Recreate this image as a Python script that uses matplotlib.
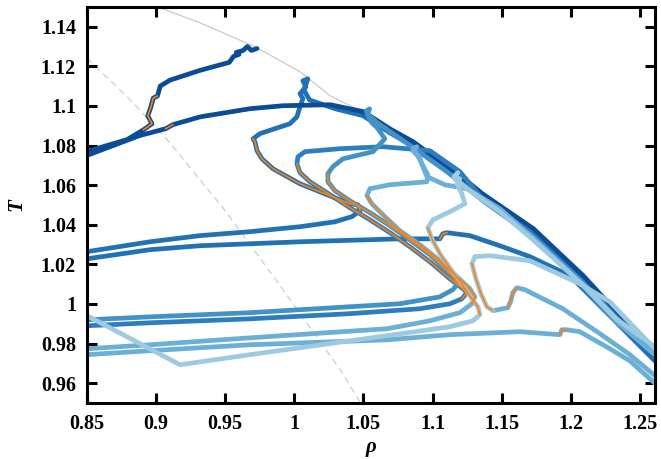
import matplotlib.pyplot as plt
from matplotlib.ticker import FormatStrFormatter, MultipleLocator

plt.rcParams['font.family'] = ['Liberation Serif', 'DejaVu Serif']
plt.rcParams['font.weight'] = 'bold'

# guide curves
binodal_rho = [0.9006, 0.9317, 0.9715, 1.0041, 1.0258, 1.0475, 1.0764, 1.1126, 1.1487, 1.1849, 1.2211, 1.2608]
binodal_T = [1.1501, 1.1420, 1.1299, 1.1173, 1.1052, 1.0976, 1.0860, 1.0690, 1.0498, 1.0302, 1.0052, 0.9766]
spinodal_rho = [0.850, 0.880, 0.908, 0.949, 0.990, 1.033, 1.048]
spinodal_T = [1.124, 1.104, 1.083, 1.048, 1.009, 0.967, 0.950]

# trajectories (rho, T) and the index range drawn as unstable (orange)
t1_rho = [0.850, 0.879, 0.891, 0.897, 0.894, 0.896, 0.898, 0.901, 0.903, 0.910, 0.932, 0.953, 0.956,
          0.960, 0.958, 0.963, 0.966, 0.969, 0.973]
t1_T = [1.077, 1.083, 1.088, 1.091, 1.095, 1.099, 1.104, 1.105, 1.110, 1.113, 1.118, 1.122, 1.125,
        1.126, 1.127, 1.128, 1.130, 1.128, 1.129]
t1_unstable = (2, 7)

t2_rho = [0.850, 0.888, 0.907, 0.912, 0.932, 0.968, 0.992, 1.026, 1.050, 1.069, 1.086, 1.110, 1.120,
          1.136, 1.173, 1.209, 1.233, 1.261]
t2_T = [1.075, 1.085, 1.0885, 1.0905, 1.0945, 1.0986, 1.1001, 1.1006, 1.0971, 1.0885, 1.0819, 1.0698,
        1.0648, 1.0557, 1.0380, 1.0143, 0.9961, 0.9764]
t2_unstable = (2, 3)

t3_rho = [0.850, 0.8956, 0.9317, 0.9679, 1.0041, 1.0294, 1.0417, 1.0475, 1.0460, 1.0402, 1.0236, 1.0041,
          0.9845, 0.9766, 0.9730, 0.9715, 0.9701, 0.9751, 0.9968, 1.0019, 1.0041, 1.0062, 1.0041, 1.0084,
          1.0062, 1.0098, 1.0070, 1.0110, 1.0294, 1.0496, 1.0692, 1.0858, 1.1104, 1.1364, 1.1726, 1.2088,
          1.2334, 1.2608]
t3_T = [1.0264, 1.0314, 1.0345, 1.0365, 1.0390, 1.0415, 1.0441, 1.0471, 1.0501, 1.0506, 1.0552, 1.0607,
        1.0683, 1.0733, 1.0774, 1.0819, 1.0834, 1.0860, 1.0910, 1.0945, 1.0996, 1.1036, 1.1062, 1.1097,
        1.1127, 1.1137, 1.1080, 1.1030, 1.0986, 1.0951, 1.0864, 1.0797, 1.0675, 1.0533, 1.0352, 1.0117,
        0.9935, 0.9734]
t3_unstable = (7, 16)

t4_rho = [0.850, 0.8956, 0.9317, 1.0041, 1.0764, 1.1053, 1.1075, 1.1104, 1.1270, 1.1487, 1.1704, 1.1994,
          1.2283, 1.2608]
t4_T = [1.0228, 1.0274, 1.0294, 1.0314, 1.0329, 1.0329, 1.0355, 1.0360, 1.0345, 1.0294, 1.0239, 1.0143,
        0.9941, 0.9713]
t4_unstable = (5, 7)

t5_rho = [0.850, 0.8956, 0.9679, 1.0402, 1.0909, 1.1126, 1.1212, 1.1249, 1.1220, 1.1126, 1.0981, 1.0836,
          1.0692, 1.0547, 1.0402, 1.0258, 1.0113, 1.0041, 1.0019, 1.0026, 1.0077, 1.0330, 1.0641, 1.0981,
          1.1198, 1.1364, 1.1726, 1.2088, 1.2334, 1.2608]
t5_T = [0.9890, 0.9905, 0.9925, 0.9951, 0.9976, 1.0001, 1.0026, 1.0057, 1.0077, 1.0127, 1.0213, 1.0289,
        1.0360, 1.0425, 1.0486, 1.0552, 1.0617, 1.0663, 1.0708, 1.0743, 1.0769, 1.0784, 1.0794, 1.0774,
        1.0668, 1.0528, 1.0345, 1.0110, 0.9930, 0.9749]
t5_unstable = (6, 18)

t6_rho = [0.850, 0.8956, 0.9679, 1.0402, 1.0764, 1.1053, 1.1147, 1.1183, 1.1162, 1.1089, 1.0981, 1.0836,
          1.0692, 1.0547, 1.0402, 1.0294, 1.0243, 1.0243, 1.0279, 1.0352, 1.0569, 1.0655, 1.0600, 1.0560,
          1.0535, 1.0520, 1.0545, 1.0530, 1.0560, 1.0600, 1.0858, 1.1104, 1.1364, 1.1726, 1.2088, 1.2334,
          1.2608]
t6_T = [0.9920, 0.9935, 0.9956, 0.9986, 1.0001, 1.0036, 1.0072, 1.0102, 1.0127, 1.0178, 1.0249, 1.0324,
        1.0395, 1.0461, 1.0521, 1.0572, 1.0617, 1.0658, 1.0693, 1.0733, 1.0769, 1.0834, 1.0890, 1.0915,
        1.0950, 1.0975, 1.0985, 1.0960, 1.0940, 1.0915, 1.0790, 1.0668, 1.0522, 1.0340, 1.0105, 0.9922,
        0.9754]
t6_unstable = (7, 17)

t7_rho = [0.850, 0.8956, 0.9679, 1.0670, 1.0981, 1.1198, 1.1285, 1.1306, 1.1270, 1.1162, 1.1053, 1.0909,
          1.0764, 1.0655, 1.0561, 1.0525, 1.0547, 1.0692, 1.0959, 1.0966, 1.0923, 1.0894, 1.0858, 1.0887,
          1.0858, 1.0909, 1.0959, 1.1089, 1.1249, 1.1487, 1.1726, 1.2088, 1.2334, 1.2608]
t7_T = [0.9774, 0.9794, 0.9829, 0.9875, 0.9915, 0.9956, 1.0001, 1.0036, 1.0077, 1.0148, 1.0218, 1.0299,
        1.0370, 1.0441, 1.0506, 1.0547, 1.0582, 1.0602, 1.0617, 1.0653, 1.0708, 1.0749, 1.0774, 1.0794,
        1.0784, 1.0733, 1.0643, 1.0602, 1.0582, 1.0481, 1.0335, 1.0092, 0.9910, 0.9744]
t7_unstable = (6, 15)

t8_rho = [0.850, 0.8956, 0.9679, 1.0670, 1.1126, 1.1632, 1.1921, 1.1936, 1.1972, 1.2066, 1.2283, 1.2428, 1.2608]
t8_T = [0.9744, 0.9764, 0.9794, 0.9819, 0.9845, 0.9860, 0.9845, 0.9870, 0.9870, 0.9860, 0.9774, 0.9713, 0.9600]
t8_unstable = (6, 8)

t9_rho = [0.850, 0.9173, 0.9679, 1.0670, 1.1126, 1.1292, 1.1343, 1.1328, 1.1285, 1.1220, 1.1140, 1.1053,
          1.0995, 1.0966, 1.1003, 1.1126, 1.1234, 1.1212, 1.1176, 1.1198, 1.1155, 1.1183, 1.1162, 1.1270,
          1.1487, 1.1726, 1.2088, 1.2334, 1.2608]
t9_T = [0.9941, 0.9693, 0.9744, 0.9840, 0.9885, 0.9915, 0.9946, 0.9986, 1.0026, 1.0092, 1.0168, 1.0254,
        1.0329, 1.0385, 1.0425, 1.0466, 1.0506, 1.0557, 1.0607, 1.0632, 1.0643, 1.0663, 1.0632, 1.0572,
        1.0466, 1.0325, 1.0097, 0.9922, 0.9784]
t9_unstable = (6, 13)

t10a_rho = [1.2608, 1.2283, 1.2066, 1.1704, 1.1415, 1.1306, 1.1285, 1.1314, 1.1350, 1.1393, 1.1437]
t10a_T = [0.9774, 1.0011, 1.0102, 1.0218, 1.0244, 1.0239, 1.0203, 1.0127, 1.0052, 0.9986, 0.9966]
t10a_unstable = (6, 10)

t10b_rho = [1.1437, 1.1545, 1.1567, 1.1581, 1.1610, 1.1668, 1.1943, 1.2211, 1.2428, 1.2608]
t10b_T = [0.9966, 0.9981, 1.0016, 1.0057, 1.0082, 1.0072, 0.9976, 0.9850, 0.9744, 0.9638]
t10b_unstable = (1, 4)

trajectories = [
    (t4_rho, t4_T, t4_unstable, '#2171b5'),
    (t3_rho, t3_T, t3_unstable, '#2171b5'),
    (t2_rho, t2_T, t2_unstable, '#0c4c97'),
    (t1_rho, t1_T, t1_unstable, '#0c4c97'),
    (t5_rho, t5_T, t5_unstable, '#2f7dbd'),
    (t6_rho, t6_T, t6_unstable, '#4292c6'),
    (t8_rho, t8_T, t8_unstable, '#6baed6'),
    (t10b_rho, t10b_T, t10b_unstable, '#6baed6'),
    (t7_rho, t7_T, t7_unstable, '#6baed6'),
    (t10a_rho, t10a_T, t10a_unstable, '#9ecae1'),
    (t9_rho, t9_T, t9_unstable, '#9ecae1'),
]

fig = plt.figure(figsize=(6.61, 4.59), dpi=100)
ax = fig.add_axes([0.1316, 0.122, 0.8594, 0.863])

ax.plot(binodal_rho, binodal_T, color='#c4c4c4', lw=0.8, zorder=1)
ax.plot(spinodal_rho, spinodal_T, color='#c8c8c8', lw=0.8, ls=(0, (6, 4)), zorder=1)

for rho, T, unstable, col in trajectories:
    ax.plot(rho, T, color=col, lw=3.4, solid_capstyle='round', solid_joinstyle='round', zorder=2)

for rho, T, unstable, col in trajectories:
    i0, i1 = unstable
    ax.plot(rho[i0:i1 + 1], T[i0:i1 + 1], color='#ff7f0e', lw=1.2, zorder=3)

ax.set_xlim(0.85, 1.261)
ax.set_ylim(0.95, 1.15)
ax.xaxis.set_major_locator(MultipleLocator(0.05))
ax.xaxis.set_major_formatter(FormatStrFormatter('%g'))
ax.yaxis.set_major_formatter(FormatStrFormatter('%g'))
ax.set_yticks([0.96, 0.98, 1.0, 1.02, 1.04, 1.06, 1.08, 1.1, 1.12, 1.14])

ax.tick_params(direction='in', length=7, width=2.2, top=True, right=True,
               labelsize=14.5, pad=8)
for lab in ax.get_xticklabels() + ax.get_yticklabels():
    lab.set_fontweight('bold')
for sp in ax.spines.values():
    sp.set_linewidth(2.2)

ax.set_xlabel('ρ', fontsize=15, fontstyle='italic', fontweight='bold', labelpad=2)
ax.set_ylabel('T', fontsize=15, fontstyle='italic', fontweight='bold', labelpad=10)

fig.savefig('out.png', dpi=100)
